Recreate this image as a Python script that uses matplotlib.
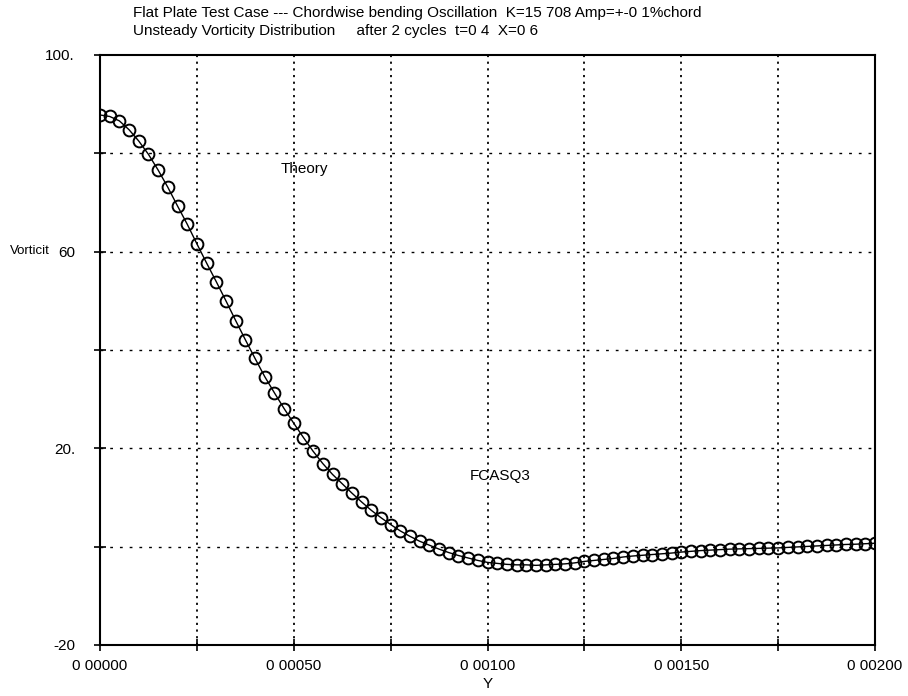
import matplotlib
matplotlib.use("Agg")
import matplotlib.pyplot as plt
from matplotlib.ticker import FixedLocator, FixedFormatter

plt.rcParams['font.family'] = ['Liberation Sans', 'DejaVu Sans']

# ---- data ----
step = 0.000025
y_pos = [k * step for k in range(81)]
fcasq3_vort = [87.8, 87.5, 86.6, 84.8, 82.5, 79.8, 76.6, 73.1, 69.3, 65.6,
               61.6, 57.7, 53.9, 50.0, 46.0, 42.1, 38.3, 34.6, 31.3, 28.1,
               25.1, 22.2, 19.4, 16.9, 14.7, 12.8, 10.9, 9.1, 7.4, 5.9,
               4.5, 3.2, 2.1, 1.1, 0.3, -0.5, -1.2, -1.8, -2.3, -2.8,
               -3.2, -3.4, -3.6, -3.7, -3.7, -3.8, -3.7, -3.6, -3.5, -3.3,
               -3.0, -2.8, -2.6, -2.4, -2.1, -1.9, -1.75, -1.6, -1.45, -1.3,
               -1.1, -0.95, -0.8, -0.7, -0.6, -0.5, -0.45, -0.4, -0.35, -0.3,
               -0.25, -0.15, -0.05, 0.05, 0.15, 0.25, 0.35, 0.45, 0.5, 0.6, 0.7]
theory_y = list(y_pos)
theory_vort = list(fcasq3_vort)

x_major = [0.0, 0.0005, 0.0010, 0.0015, 0.0020]
x_labels = ["0 00000", "0 00050", "0 00100", "0 00150", "0 00200"]
x_minor = [0.00025, 0.00075, 0.00125, 0.00175]
y_major = [-20, 20, 60, 100]
y_labels = ["-20", "20.", "60", "100."]
y_minor = [0, 40, 80]

title1 = "Flat Plate Test Case --- Chordwise bending Oscillation  K=15 708 Amp=+-0 1%chord"
title2 = "Unsteady Vorticity Distribution     after 2 cycles  t=0 4  X=0 6"

# ---- figure ----
fig = plt.figure(figsize=(9.08, 6.96), dpi=100)
ax = fig.add_axes([100/908, 51/696, 775/908, 590/696])

ax.plot(theory_y, theory_vort, color='black', lw=1.0, zorder=3)
ax.plot(y_pos, fcasq3_vort, linestyle='none', marker='o', markersize=8.5,
        markerfacecolor='none', markeredgecolor='black', markeredgewidth=1.4, zorder=4)

ax.set_xlim(0, 0.002)
ax.set_ylim(-20, 100)

ax.xaxis.set_major_locator(FixedLocator(x_major))
ax.xaxis.set_major_formatter(FixedFormatter(x_labels))
ax.xaxis.set_minor_locator(FixedLocator(x_minor))
ax.yaxis.set_major_locator(FixedLocator(y_major))
ax.yaxis.set_major_formatter(FixedFormatter(y_labels))
ax.yaxis.set_minor_locator(FixedLocator(y_minor))

ax.tick_params(which='both', direction='inout', length=8, width=1.2, colors='black',
               labelsize=11)
ax.tick_params(axis='x', pad=6)
ax.tick_params(axis='y', pad=14)

for gx in x_minor + x_major[1:-1]:
    ax.axvline(gx, color='black', lw=1.3, linestyle=(0, (1.2, 2.5)), zorder=1)
for gy in y_minor + y_major[1:-1]:
    ax.axhline(gy, color='black', lw=1.0, linestyle=(0, (2, 5)), zorder=1)

for s in ax.spines.values():
    s.set_linewidth(1.5)
    s.set_color('black')

ax.text(0.000465, 76.9, "Theory", fontsize=11, va='center', ha='left')
ax.text(0.000955, 14.3, "FCASQ3", fontsize=11, va='center', ha='left')

fig.text(133/908, 1 - 13/696, title1, fontsize=11, va='center', ha='left')
fig.text(133/908, 1 - 31/696, title2, fontsize=11, va='center', ha='left')
fig.text(10/908, 1 - 251/696, "Vorticit", fontsize=9.5, va='center', ha='left')
fig.text(488/908, 1 - 684/696, "Y", fontsize=11, va='center', ha='center')

fig.savefig("out.png", dpi=100)
